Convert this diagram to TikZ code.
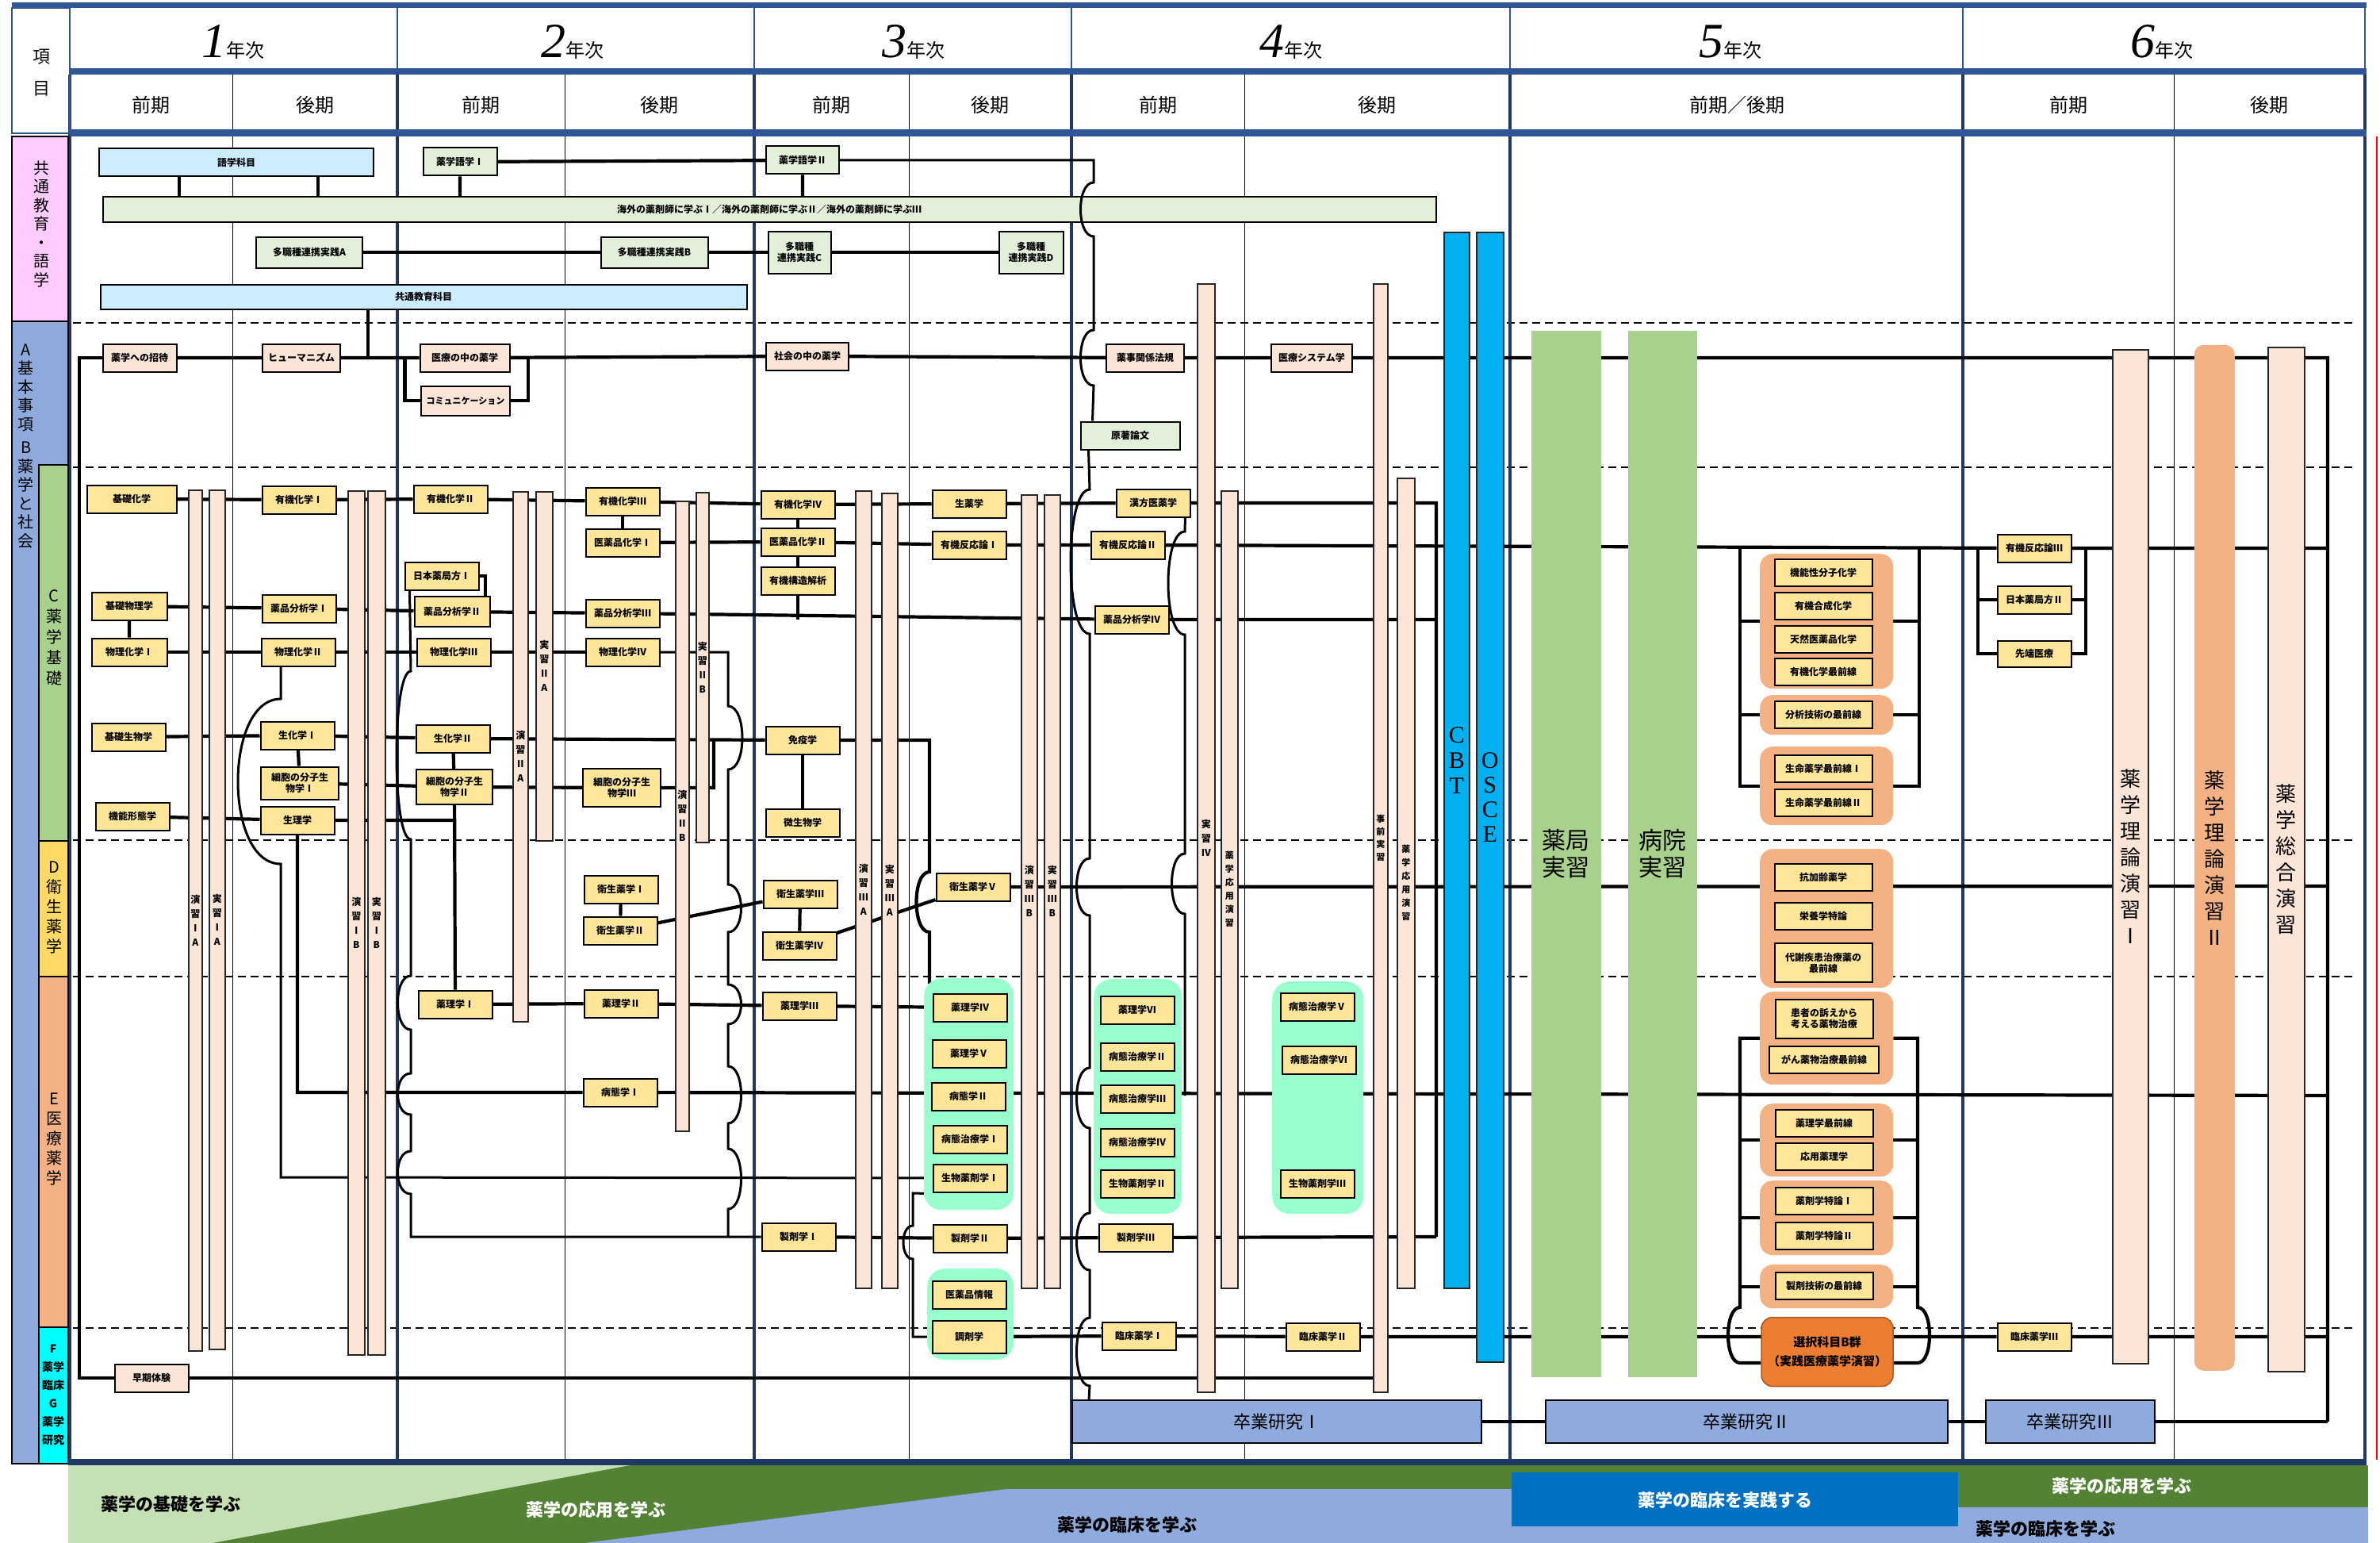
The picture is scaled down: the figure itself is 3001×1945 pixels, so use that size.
\documentclass[tikz,border=0pt]{standalone}
\usepackage{fontspec}
\setmainfont{Noto Sans CJK JP}
\newfontfamily\romanfont{Liberation Serif}
\usetikzlibrary{backgrounds,calc,positioning}
\definecolor{hdblue}{RGB}{47,85,151}
\definecolor{navy}{RGB}{32,56,100}
\definecolor{subjyellow}{RGB}{255,230,153}
\definecolor{barpink}{RGB}{251,229,214}
\definecolor{kyogreen}{RGB}{226,240,217}
\definecolor{langblue}{RGB}{204,236,255}
\definecolor{labpink}{RGB}{255,204,255}
\definecolor{labblue}{RGB}{142,169,219}
\definecolor{labgreen}{RGB}{169,209,142}
\definecolor{labyellow}{RGB}{255,217,102}
\definecolor{laborange}{RGB}{244,177,131}
\definecolor{labcyan}{RGB}{0,255,255}
\definecolor{mint}{RGB}{153,255,204}
\definecolor{selorange}{RGB}{237,125,49}
\definecolor{testblue}{RGB}{0,176,240}
\definecolor{gradblue}{RGB}{143,170,220}
\definecolor{bandlight}{RGB}{197,224,180}
\definecolor{banddark}{RGB}{84,130,53}
\definecolor{bandbox}{RGB}{0,112,192}
\pgfdeclarelayer{grid}
\pgfsetlayers{grid,background,main}

\begin{document}
\begin{tikzpicture}[x=1pt,y=-1pt,
  subj/.style={draw,line width=2pt,fill=subjyellow,inner sep=1pt,align=center,
    minimum width=93pt,minimum height=35pt,font=\bfseries\fontsize{12}{14}\selectfont},
  obox/.style={subj,minimum width=123pt,minimum height=34pt},
  tall/.style={draw=black!85,line width=1.5pt,fill=barpink,inner sep=0pt,anchor=north west,
    align=center,font=\bfseries\fontsize{12}{18}\selectfont},
  grp/.style={fill=mint,rounded corners=22pt,anchor=north west,inner sep=0pt},
  ogrp/.style={fill=laborange,rounded corners=16pt,anchor=north west,inner sep=0pt,minimum width=168pt},
  catlab/.style={align=center,font=\fontsize{20}{23.5}\selectfont},
  study/.style={draw,line width=2pt,fill=gradblue,minimum height=54pt,font=\fontsize{22}{24}\selectfont},
  bandtxt/.style={font=\bfseries\fontsize{22}{24}\selectfont},
  link/.style={line width=4.2pt},
  hopline/.style={line width=3pt},
  hopL/.style n args={4}{insert path={-- (#1,{#2-#3}) .. controls +(-#4,0) and +(-#4,0) .. (#1,{#2+#3})}},
  hopR/.style n args={4}{insert path={-- (#1,{#2-#3}) .. controls +(#4,0) and +(#4,0) .. (#1,{#2+#3})}}]
\useasboundingbox (0,0) rectangle (3001,1945);

% grid of the table
\begin{pgfonlayer}{grid}
\fill[white] (0,0) rectangle (3001,1945);
\foreach \y in {407,589,1059,1231,1674}
  \draw[line width=2.5pt,dash pattern=on 10pt off 6pt] (92,\y) -- (2972,\y);
\foreach \x in {293,712,1146,1569,2741}
  \draw[line width=1pt] (\x,94) -- (\x,1840);
\foreach \x in {88,501,951,1351,1904,2475,2982}
  \draw[navy,line width=3.5pt] (\x,94) -- (\x,1843);
\draw[red,line width=2pt] (2997,172) -- (2997,1840);
\end{pgfonlayer}

% header
\fill[hdblue] (15,3) rectangle (2984,10);
\fill[hdblue] (88,86) rectangle (2984,94);
\fill[hdblue] (88,163) rectangle (2984,172);
\draw[hdblue,line width=1.5pt] (15,10) rectangle (88,168);
\foreach \x in {501,951,1351,1904,2475,2982}
  \draw[hdblue,line width=1.5pt] (\x,10) -- (\x,94);
\node[align=center,font=\fontsize{22}{40}\selectfont] (komoku) at (52,92) {項\\目};
\foreach \n/\x in {1/294,2/722,3/1152,4/1628,5/2182,6/2726}
  \node[anchor=base] (year\n) at (\x,73) {{\romanfont\itshape\fontsize{62}{62}\selectfont\n}{\fontsize{24}{24}\selectfont 年次}};
\foreach \t/\x [count=\i] in {前期/190,後期/397,前期/606,後期/831,前期/1048,後期/1248,前期/1460,後期/1736,前期／後期/2190,前期/2608,後期/2861}
  \node[font=\fontsize{24}{26}\selectfont] (term\i) at (\x,132) {\t};

% category column
\draw[line width=2.5pt,fill=labpink] (15,172) rectangle (86,405);
\draw[line width=2.5pt,fill=labblue] (15,405) rectangle (86,1845);
\draw[line width=2.5pt,fill=labgreen] (49,586) rectangle (86,1060);
\draw[line width=2.5pt,fill=labyellow] (49,1060) rectangle (86,1231);
\draw[line width=2.5pt,fill=laborange] (49,1231) rectangle (86,1673);
\draw[line width=2.5pt,fill=labcyan] (49,1673) rectangle (86,1845);
\node[catlab] (labK) at (52,282) {共\\通\\教\\育\\・\\語\\学};
\node[catlab] (labAB) at (33,562) {A\\基\\本\\事\\項\\[6pt]B\\薬\\学\\と\\社\\会};
\node[catlab,font=\fontsize{20}{26}\selectfont] (labC) at (68,804) {C\\薬\\学\\基\\礎};
\node[catlab,font=\fontsize{20}{25}\selectfont] (labD) at (68,1144) {D\\衛\\生\\薬\\学};
\node[catlab,font=\fontsize{20}{25}\selectfont] (labE) at (68,1436) {E\\医\\療\\薬\\学};
\node[catlab,font=\bfseries\fontsize{14}{23}\selectfont] (labFG) at (67,1758) {F\\薬学\\臨床\\G\\薬学\\研究};

% bottom band
\fill[navy] (86,1839) rectangle (2984,1847);
\fill[banddark] (86,1847) rectangle (2986,1945);
\fill[bandlight] (86,1847) -- (794,1847) -- (268,1945) -- (86,1945) -- cycle;
\fill[gradblue] (737,1945) -- (1269,1877) -- (2469,1877) -- (2469,1900) -- (2986,1900) -- (2986,1945) -- cycle;
\fill[bandbox] (1906,1856) rectangle (2469,1924);
\node[bandtxt] (band1) at (215,1896) {薬学の基礎を学ぶ};
\node[bandtxt,text=white] (band2) at (751,1903) {薬学の応用を学ぶ};
\node[bandtxt] (band3) at (1421,1922) {薬学の臨床を学ぶ};
\node[bandtxt,text=white] (band4) at (2175,1891) {薬学の臨床を実践する};
\node[bandtxt,text=white] (band5) at (2675,1873) {薬学の応用を学ぶ};
\node[bandtxt] (band6) at (2579,1927) {薬学の臨床を学ぶ};

% groups
\node[grp,minimum width=113pt,minimum height=292pt] (g1) at (1165,1233) {};
\node[grp,minimum width=111pt,minimum height=296pt] (g2) at (1379,1234) {};
\node[grp,minimum width=115pt,minimum height=293pt] (g3) at (1604,1237) {};
\node[grp,minimum width=109pt,minimum height=115pt] (g4) at (1169,1599) {};
\node[ogrp,minimum height=170pt] (o1) at (2219,698) {};
\node[ogrp,minimum height=50pt] (o2) at (2219,876) {};
\node[ogrp,minimum height=99pt] (o3) at (2219,941) {};
\node[ogrp,minimum height=175pt] (o4) at (2219,1070) {};
\node[ogrp,minimum height=117pt] (o5) at (2219,1250) {};
\node[ogrp,minimum height=92pt] (o6) at (2219,1391) {};
\node[ogrp,minimum height=94pt] (o7) at (2219,1488) {};
\node[ogrp,minimum height=55pt] (o8) at (2219,1594) {};

% tall bars
\node[tall,minimum width=17pt,minimum height=1085pt] (en1a) at (237,617) {演\\習\\Ⅰ\\A};
\node[tall,minimum width=20pt,minimum height=1083pt] (ji1a) at (263,617) {実\\習\\Ⅰ\\A};
\node[tall,minimum width=21pt,minimum height=1089pt] (en1b) at (438,618) {演\\習\\Ⅰ\\B};
\node[tall,minimum width=22pt,minimum height=1089pt] (ji1b) at (463,618) {実\\習\\Ⅰ\\B};
\node[tall,minimum width=19pt,minimum height=668pt] (en2a) at (646,619) {演\\習\\Ⅱ\\A};
\node[tall,minimum width=21pt,minimum height=440pt] (ji2a) at (675,619) {実\\習\\Ⅱ\\A};
\node[tall,minimum width=17pt,minimum height=794pt] (en2b) at (851,631) {演\\習\\Ⅱ\\B};
\node[tall,minimum width=16pt,minimum height=441pt] (ji2b) at (877,620) {実\\習\\Ⅱ\\B};
\node[tall,minimum width=20pt,minimum height=1005pt] (en3a) at (1078,618) {演\\習\\Ⅲ\\A};
\node[tall,minimum width=20pt,minimum height=1002pt] (ji3a) at (1111,621) {実\\習\\Ⅲ\\A};
\node[tall,minimum width=20pt,minimum height=1000pt] (en3b) at (1287,623) {演\\習\\Ⅲ\\B};
\node[tall,minimum width=20pt,minimum height=1000pt] (ji3b) at (1316,623) {実\\習\\Ⅲ\\B};
\node[tall,minimum width=22pt,minimum height=1397pt] (ji4) at (1509,357) {実\\習\\Ⅳ};
\node[tall,minimum width=21pt,minimum height=1005pt,font=\bfseries\fontsize{11}{17}\selectfont] (oyo1) at (1539,618) {薬\\学\\応\\用\\演\\習};
\node[tall,minimum width=18pt,minimum height=1397pt,font=\bfseries\fontsize{11}{16}\selectfont] (jizen) at (1731,357) {事\\前\\実\\習};
\node[tall,minimum width=22pt,minimum height=1021pt,font=\bfseries\fontsize{11}{17}\selectfont] (oyo2) at (1761,602) {薬\\学\\応\\用\\演\\習};
\node[tall,fill=testblue,minimum width=32pt,minimum height=1331pt,font=\romanfont\fontsize{30}{32}\selectfont] (cbt) at (1820,292) {C\\B\\T};
\node[tall,fill=testblue,minimum width=34pt,minimum height=1424pt,font=\romanfont\fontsize{30}{31}\selectfont] (osce) at (1861,292) {O\\S\\C\\E};
\node[tall,draw=none,fill=labgreen,minimum width=88pt,minimum height=1319pt,font=\fontsize{30}{34}\selectfont] (yakkyoku) at (1930,416) {薬局\\実習};
\node[tall,draw=none,fill=labgreen,minimum width=87pt,minimum height=1319pt,font=\fontsize{30}{34}\selectfont] (byoin) at (2052,416) {病院\\実習};
\node[tall,minimum width=45pt,minimum height=1278pt,font=\fontsize{26}{33}\selectfont] (riron1) at (2663,440) {薬\\学\\理\\論\\演\\習\\Ⅰ};
\node[tall,draw=none,fill=laborange,rounded corners=12pt,minimum width=51pt,minimum height=1293pt,font=\fontsize{26}{33}\selectfont] (riron2) at (2766,434) {薬\\学\\理\\論\\演\\習\\Ⅱ};
\node[tall,minimum width=46pt,minimum height=1291pt,font=\fontsize{26}{33}\selectfont] (sogo) at (2859,437) {薬\\学\\総\\合\\演\\習};

% 共通教育・語学
\node[subj,fill=langblue,minimum width=346pt] (gogaku) at (298,205) {語学科目};
\node[subj,fill=kyogreen] (yg1) at (580,204) {薬学語学Ⅰ};
\node[subj,fill=kyogreen,minimum width=92pt] (yg2) at (1012,202) {薬学語学Ⅱ};
\node[subj,fill=kyogreen,minimum width=1681pt,minimum height=32pt] (kaigai) at (970,264) {海外の薬剤師に学ぶⅠ／海外の薬剤師に学ぶⅡ／海外の薬剤師に学ぶⅢ};
\node[subj,fill=kyogreen,minimum width=134pt,minimum height=39pt] (tashokuA) at (390,318) {多職種連携実践A};
\node[subj,fill=kyogreen,minimum width=135pt,minimum height=39pt] (tashokuB) at (825,318) {多職種連携実践B};
\node[subj,fill=kyogreen,minimum width=79pt,minimum height=53pt] (tashokuC) at (1008,318) {多職種\\連携実践C};
\node[subj,fill=kyogreen,minimum width=81pt,minimum height=53pt] (tashokuD) at (1300,318) {多職種\\連携実践D};
\node[subj,fill=langblue,minimum width=815pt,minimum height=31pt] (kyotsu) at (534,374) {共通教育科目};

% A 基本事項 B 薬学と社会
\node[subj,fill=barpink] (shotai) at (176,451) {薬学への招待};
\node[subj,fill=barpink,minimum width=98pt] (human) at (380,451) {ヒューマニズム};
\node[subj,fill=barpink,minimum width=113pt] (iryo) at (586,451) {医療の中の薬学};
\node[subj,fill=barpink,minimum width=112pt,minimum height=37pt,font=\bfseries\fontsize{11}{13}\selectfont] (comm) at (587,505) {コミュニケーション};
\node[subj,fill=barpink,minimum width=104pt] (shakai) at (1018,449) {社会の中の薬学};
\node[subj,fill=barpink,minimum width=98pt] (hoki) at (1444,451) {薬事関係法規};
\node[subj,fill=barpink,minimum width=102pt] (system) at (1654,451) {医療システム学};
\node[subj,fill=kyogreen,minimum width=125pt] (gencho) at (1425,549) {原著論文};
\node[subj,fill=barpink] (soki) at (191,1737) {早期体験};

% C 薬学基礎
\node[subj,minimum width=113pt] (kisokagaku) at (166,629) {基礎化学};
\node[subj] (yuki1) at (377,630) {有機化学Ⅰ};
\node[subj] (yuki2) at (568,629) {有機化学Ⅱ};
\node[subj] (yuki3) at (785,632) {有機化学Ⅲ};
\node[subj,below=15pt of yuki3] (iyaku1) {医薬品化学Ⅰ};
\node[subj] (nihon1) at (557,726) {日本薬局方Ⅰ};
\node[subj] (yuki4) at (1006,636) {有機化学Ⅳ};
\node[subj] (iyaku2) at (1006,683) {医薬品化学Ⅱ};
\node[subj,below=12pt of iyaku2] (kozo) {有機構造解析};
\node[subj] (shoyaku) at (1222,635) {生薬学};
\node[subj] (hanno1) at (1222,687) {有機反応論Ⅰ};
\node[subj] (kampo) at (1454,634) {漢方医薬学};
\node[subj] (hanno2) at (1422,687) {有機反応論Ⅱ};
\node[subj,minimum width=95pt] (kisobutsuri) at (163,764) {基礎物理学};
\node[subj,minimum width=95pt] (butsuri1) at (163,822) {物理化学Ⅰ};
\node[subj] (bunseki1) at (377,767) {薬品分析学Ⅰ};
\node[subj] (butsuri2) at (376,822) {物理化学Ⅱ};
\node[subj,minimum width=95pt,minimum height=38pt] (bunseki2) at (570,771) {薬品分析学Ⅱ};
\node[subj] (butsuri3) at (572,822) {物理化学Ⅲ};
\node[subj] (bunseki3) at (785,773) {薬品分析学Ⅲ};
\node[subj] (butsuri4) at (785,822) {物理化学Ⅳ};
\node[subj] (bunseki4) at (1427,781) {薬品分析学Ⅳ};
\node[subj] (kisoseibutsu) at (162,929) {基礎生物学};
\node[subj] (seika1) at (375,927) {生化学Ⅰ};
\node[subj,minimum width=98pt,minimum height=41pt] (saibo1) at (378,987) {細胞の分子生\\物学Ⅰ};
\node[subj] (seika2) at (571,931) {生化学Ⅱ};
\node[subj,minimum width=96pt,minimum height=44pt] (saibo2) at (573,992) {細胞の分子生\\物学Ⅱ};
\node[subj,minimum width=98pt,minimum height=48pt] (saibo3) at (784,993) {細胞の分子生\\物学Ⅲ};
\node[subj] (keitai) at (167,1029) {機能形態学};
\node[subj] (seiri) at (375,1034) {生理学};
\node[subj] (meneki) at (1012,933) {免疫学};
\node[subj] (biseibutsu) at (1012,1037) {微生物学};

% D 衛生薬学
\node[subj] (eisei1) at (783,1121) {衛生薬学Ⅰ};
\node[subj] (eisei2) at (782,1173) {衛生薬学Ⅱ};
\node[subj] (eisei3) at (1009,1127) {衛生薬学Ⅲ};
\node[subj] (eisei4) at (1008,1192) {衛生薬学Ⅳ};
\node[subj] (eisei5) at (1227,1118) {衛生薬学Ⅴ};

% E 医療薬学
\node[subj] (yakuri1) at (574,1266) {薬理学Ⅰ};
\node[subj] (yakuri2) at (783,1265) {薬理学Ⅱ};
\node[subj] (yakuri3) at (1008,1268) {薬理学Ⅲ};
\node[subj] (byotai1) at (782,1377) {病態学Ⅰ};
\node[subj] (seizai1) at (1007,1559) {製剤学Ⅰ};
\node[subj] (seizai2) at (1223,1561) {製剤学Ⅱ};
\node[subj] (seizai3) at (1432,1560) {製剤学Ⅲ};
\node[subj] (yakuri4) at (1223,1270) {薬理学Ⅳ};
\node[subj] (yakuri5) at (1222,1328) {薬理学Ⅴ};
\node[subj] (byotai2) at (1221,1382) {病態学Ⅱ};
\node[subj] (chiryo1) at (1223,1436) {病態治療学Ⅰ};
\node[subj] (seibutsu1) at (1223,1485) {生物薬剤学Ⅰ};
\node[subj] (yakuri6) at (1434,1273) {薬理学Ⅵ};
\node[subj] (chiryo2) at (1434,1332) {病態治療学Ⅱ};
\node[subj] (chiryo3) at (1434,1385) {病態治療学Ⅲ};
\node[subj] (chiryo4) at (1434,1440) {病態治療学Ⅳ};
\node[subj] (seibutsu2) at (1434,1492) {生物薬剤学Ⅱ};
\node[subj] (chiryo5) at (1661,1269) {病態治療学Ⅴ};
\node[subj] (chiryo6) at (1663,1336) {病態治療学Ⅵ};
\node[subj] (seibutsu3) at (1661,1492) {生物薬剤学Ⅲ};
\node[subj] (joho) at (1222,1632) {医薬品情報};
\node[subj,minimum height=41pt] (chozai) at (1222,1685) {調剤学};
\node[subj] (rinsho1) at (1436,1684) {臨床薬学Ⅰ};
\node[subj] (rinsho2) at (1668,1685) {臨床薬学Ⅱ};
\node[study,minimum width=516pt] (sotsu1) at (1610,1792) {卒業研究Ⅰ};

% 5年次
\node[obox] (kinosei) at (2299,722) {機能性分子化学};
\node[obox,below=6pt of kinosei] (gosei) {有機合成化学};
\node[obox,below=6pt of gosei] (tennen) {天然医薬品化学};
\node[obox,below=5pt of tennen] (yukisaizen) {有機化学最前線};
\node[obox] (bunsekisaizen) at (2299,901) {分析技術の最前線};
\node[obox] (seimei1) at (2299,969) {生命薬学最前線Ⅰ};
\node[obox,below=7pt of seimei1] (seimei2) {生命薬学最前線Ⅱ};
\node[obox] (koka) at (2299,1106) {抗加齢薬学};
\node[obox,below=13pt of koka] (eiyo) {栄養学特論};
\node[obox,minimum height=49pt,below=15pt of eiyo] (taisha) {代謝疾患治療薬の\\最前線};
\node[obox,minimum height=49pt] (kanja) at (2300,1284) {患者の訴えから\\考える薬物治療};
\node[obox,minimum width=138pt,below=8pt of kanja] (gan) {がん薬物治療最前線};
\node[obox] (yakurisaizen) at (2300,1416) {薬理学最前線};
\node[obox,below=6pt of yakurisaizen] (oyoyakuri) {応用薬理学};
\node[obox] (tokuron1) at (2300,1514) {薬剤学特論Ⅰ};
\node[obox,below=8pt of tokuron1] (tokuron2) {薬剤学特論Ⅱ};
\node[obox] (seizaisaizen) at (2300,1621) {製剤技術の最前線};
\node[draw=selorange!70!black,line width=1.5pt,fill=selorange,rounded corners=14pt,minimum width=166pt,
  minimum height=87pt,align=center,font=\bfseries\fontsize{15}{24}\selectfont] (sentaku) at (2304,1704) {選択科目B群\\（実践医療薬学演習）};
\node[study,minimum width=507pt] (sotsu2) at (2202,1792) {卒業研究Ⅱ};

% 6年次
\node[subj] (hanno3) at (2565,691) {有機反応論Ⅲ};
\node[subj] (nihon2) at (2565,756) {日本薬局方Ⅱ};
\node[subj,minimum height=33pt] (sentan) at (2565,824) {先端医療};
\node[subj] (rinsho3) at (2565,1685) {臨床薬学Ⅲ};
\node[study,minimum width=213pt] (sotsu3) at (2610,1792) {卒業研究Ⅲ};

% connectors
\coordinate (rAB) at (2935,451);
\coordinate (rYK) at (2935,691);
\coordinate (rES) at (2935,1117);
\coordinate (rBT) at (2935,1381);
\coordinate (rRS) at (2935,1685);
\coordinate (rSK) at (2935,1792);
\coordinate (gA) at ([xshift=-72pt]gogaku.south);
\coordinate (gB) at ([xshift=103pt]gogaku.south);
\coordinate (kyA) at ([xshift=-70pt]kyotsu.south);
\coordinate (cmL) at ([xshift=-18pt]iryo.west);
\coordinate (bl) at (2194,691);
\coordinate (br) at (2420,691);
\coordinate (bl6) at (2494,691);
\coordinate (br6) at (2630,691);
\begin{pgfonlayer}{background}
\draw[link] (gA) -- (gA |- kaigai.north) (gB) -- (gB |- kaigai.north);
\draw[link] (yg1) -- (yg1 |- kaigai.north) (yg1) -- (yg2) (yg2) -- (yg2 |- kaigai.north);
\draw[link] (tashokuA) -- (tashokuB) -- (tashokuC) -- (tashokuD);
\draw[link] (kyA) -- (kyA |- human);
\draw[link] (shotai) -| (100,1737) -- (soki) -- (soki -| jizen);
\draw[link] (shotai) -- (human) -- (iryo) -- (shakai) -- (hoki) -- (system) -- (rAB) -- (rSK);
\draw[link] (cmL) |- (comm) (iryo) -| ([xshift=22pt]comm.east) -- (comm);
\draw[link] (kisokagaku) -- (yuki1) -- (yuki2) -- (yuki3) -- (yuki4) -- (shoyaku) -- (kampo) -| (1811,1559);
\draw[link] (yuki3) -- (iyaku1) (yuki4) -- (iyaku2) -- (kozo) -- (kozo |- bunseki4);
\draw[link] (iyaku1) -- (iyaku2) -- (hanno1) -- (hanno2) -- (hanno3) -- (rYK);
\draw[link] (kisobutsuri) -- (butsuri1) (kisobutsuri) -- (bunseki1) -- (bunseki2) -- (bunseki3) -- (bunseki4) -- (1811,781);
\draw[link] (nihon1) -| ([xshift=42pt]bunseki2.north);
\draw[link] (butsuri1) -- (butsuri2) -- (butsuri3) -- (butsuri4);
\draw[hopline] (butsuri4) -- (918,822) [hopR={918}{930}{40}{24}] [hopR={918}{1145}{30}{22}] [hopR={918}{1266}{25}{22}]
  [hopR={918}{1380}{36}{22}] [hopR={918}{1486}{38}{22}] -- (918,1559);
\draw[hopline] ([xshift=7pt]nihon1.south west) -- (518,846) [hopL={518}{952}{106}{24}] [hopL={518}{1264}{34}{22}]
  [hopL={518}{1379}{26}{22}] [hopL={518}{1478}{27}{22}] -- (518,1559) -- (seizai1);
\draw[hopline] ([xshift=-22pt]butsuri2.south) -- (354,881) [hopL={354}{985}{104}{72}] -- (354,1484) -- (seibutsu1);
\draw[link] (kisoseibutsu) -- (seika1) -- (seika2) -- (meneki) -| (1172,1000) [hopL={1172}{1137}{38}{22}] -- (1172,1240);
\draw[link] (seika1) -- (saibo1) (seika2) -- (saibo2) -- (yakuri1);
\draw[link] (saibo1) -- (saibo2) -- (saibo3) -| (900,931);
\draw[link] (keitai) -- (seiri) -- (seiri -| saibo2);
\draw[link] (meneki) -- (biseibutsu);
\draw[link] (seiri) |- (byotai1) -- (rBT);
\draw[link] (eisei1) -- (eisei2) -- (eisei3) -- (eisei4) -- (eisei5) -- (rES);
\draw[link] (yakuri1) -- (yakuri2) -- (yakuri3) -- (yakuri4);
\draw[link] (seizai1) -- (seizai2) -- (seizai3) -- (1811,1559);
\draw[hopline] ([xshift=-7pt]kampo.south east) -- (1494,668) [hopL={1494}{735}{65}{28}] [hopL={1494}{1114}{38}{22}] -- (1494,1381);
\draw[hopline] ([yshift=21pt]g1.south west) -- (1151,1504) [hopL={1151}{1566}{21}{16}] -- (1151,1685) -- (chozai);
\draw[link] (chozai) -- (rinsho1) -- (rinsho2) -- (rinsho3) -- (rRS);
\draw[hopline] ([xshift=11pt]gencho.south west) -- (1374,617) [hopL={1374}{708}{91}{32}] [hopL={1374}{1118}{36}{22}]
  [hopL={1374}{1384}{38}{22}] [hopL={1374}{1565}{36}{22}] [hopL={1374}{1704}{43}{22}] -- ([xshift=22pt]sotsu1.north west);
\draw[link] (sotsu1) -- (sotsu2) -- (sotsu3) -- (rSK);
\draw[link] (bl) |- (o1) (bl) |- (o2) (bl) |- (o3) (br) |- (o1) (br) |- (o2) (br) |- (o3);
\draw[link] (o5) -| (2194,1640) [hopL={2194}{1683}{35}{20}] -- ([yshift=-14pt]sentaku.west);
\draw[link] (o5) -| (2418,1640) [hopR={2418}{1683}{35}{20}] -- ([yshift=-14pt]sentaku.east);
\draw[link] (o6.west) -- ++(-25,0) (o7.west) -- ++(-25,0) (o8.west) -- ++(-25,0)
  (o6.east) -- ++(31,0) (o7.east) -- ++(31,0) (o8.east) -- ++(31,0);
\draw[link] (bl6) |- (nihon2) (bl6) |- (sentan) (br6) |- (nihon2) (br6) |- (sentan);
\end{pgfonlayer}
\draw[hopline] (yg2) -- (1379,202) [hopL={1379}{264}{34}{22}] [hopL={1379}{451}{35}{22}] -- ([xshift=16pt]gencho.north west);
\end{tikzpicture}
\end{document}
